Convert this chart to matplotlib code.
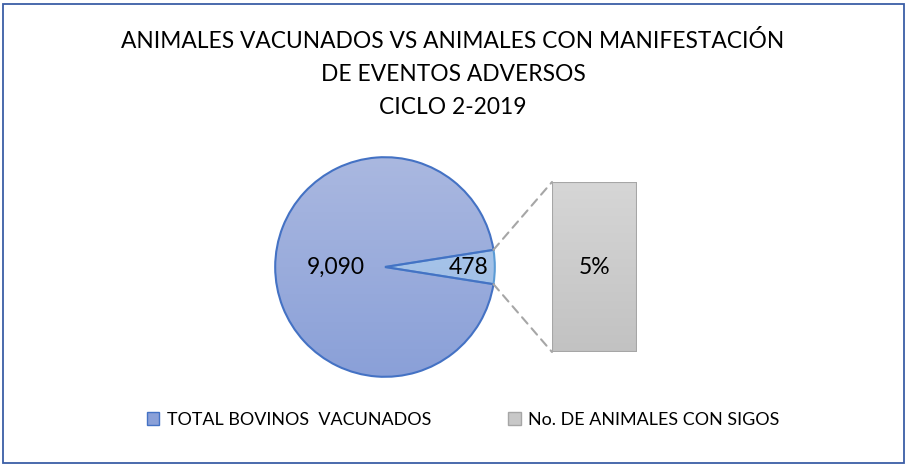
import numpy as np
import matplotlib
matplotlib.use("Agg")
import matplotlib.pyplot as plt
from matplotlib.patches import Rectangle, Patch, ConnectionPatch
from matplotlib.colors import LinearSegmentedColormap

# datos
titulo = ["ANIMALES VACUNADOS VS ANIMALES CON MANIFESTACIÓN",
          "DE EVENTOS ADVERSOS",
          "CICLO 2-2019"]
categorias = ["TOTAL BOVINOS  VACUNADOS", "No. DE ANIMALES CON SIGOS"]
valores = [9090, 478]

W, H = 907, 466
plt.rcParams['font.family'] = ['Lato', 'DejaVu Sans']

fig = plt.figure(figsize=(W / 100, H / 100), dpi=100)

def px(x0, y0, w, h):
    # rect en pixeles (origen arriba-izquierda) -> fraccion de figura
    return [x0 / W, 1 - (y0 + h) / H, w / W, h / H]

# marco
fig.patches.append(Rectangle((3 / W, 3 / H), (W - 6) / W, (H - 7) / H,
                             transform=fig.transFigure, fill=False,
                             edgecolor='#3b5ea6', linewidth=1.3))

# titulo
fig.text(453 / W, 1 - 74 / H, "\n".join(titulo), ha='center', va='center',
         fontsize=16.4, linespacing=1.68, color='black')

def gradiente(ax, patch, c1, c2, extent):
    cmap = LinearSegmentedColormap.from_list('g', [c2, c1])
    grad = np.linspace(0, 1, 256).reshape(-1, 1)
    im = ax.imshow(grad, cmap=cmap, extent=extent, origin='lower',
                   aspect='auto', zorder=1)
    im.set_clip_path(patch)

###############################################################################
# pastel
r = 112
ax = fig.add_axes(px(385 - r, 267 - r, 2 * r, 2 * r))
total = sum(valores)
ang = valores[1] / total * 360
wedges, _ = ax.pie([valores[1], valores[0]], startangle=-ang / 2, radius=1,
                   wedgeprops=dict(edgecolor='#4472c4', linewidth=1.5,
                                   facecolor='none', zorder=3))
ax.set_xlim(-1.02, 1.02)
ax.set_ylim(-1.02, 1.02)
ax.axis('off')
gradiente(ax, wedges[1], '#aab8e0', '#8aa0d8', [-1, 1, -1, 1])
gradiente(ax, wedges[0], '#acc8ea', '#9dbce6', [-1, 1, -1, 1])
wedges[0].set_edgecolor('#5b9bd5')

ax.text(-0.45, 0, f"{valores[0]:,}", ha='center', va='center', fontsize=16.5, zorder=4)
ax.text(0.76, 0, f"{valores[1]:,}", ha='center', va='center', fontsize=16.5, zorder=4)

###############################################################################
# barra
bx = fig.add_axes(px(552, 182, 85, 170))
barras = bx.bar([0], [valores[1]], width=1, facecolor='none',
                edgecolor='#a6a6a6', linewidth=1.5, zorder=3)
bx.set_xlim(-0.5, 0.5)
bx.set_ylim(0, valores[1])
bx.axis('off')
gradiente(bx, barras[0], '#d6d6d6', '#c2c2c2', [-0.5, 0.5, 0, valores[1]])
bx.text(0, valores[1] / 2, f"{valores[1] / total:.0%}", ha='center', va='center',
        fontsize=16.5, zorder=4)

# lineas de union
t1 = np.deg2rad(ang / 2)
for s, yb in [(1, valores[1]), (-1, 0)]:
    con = ConnectionPatch(xyA=(np.cos(t1), s * np.sin(t1)), coordsA=ax.transData,
                          xyB=(-0.5, yb), coordsB=bx.transData,
                          linestyle=(0, (4, 3)), color='#a6a6a6', linewidth=1.5)
    fig.add_artist(con)

###############################################################################
# leyenda
h1 = Patch(facecolor='#8aa0d8', edgecolor='#4472c4')
h2 = Patch(facecolor='#c8c8c8', edgecolor='#a6a6a6')
fig.legend([h1, h2], categorias, loc='center', bbox_to_anchor=(463 / W, 1 - 420 / H),
           ncol=2, frameon=False, fontsize=12.9, columnspacing=4.3,
           handlelength=0.7, handleheight=0.7, handletextpad=0.4)

fig.savefig("out.png", dpi=100)
